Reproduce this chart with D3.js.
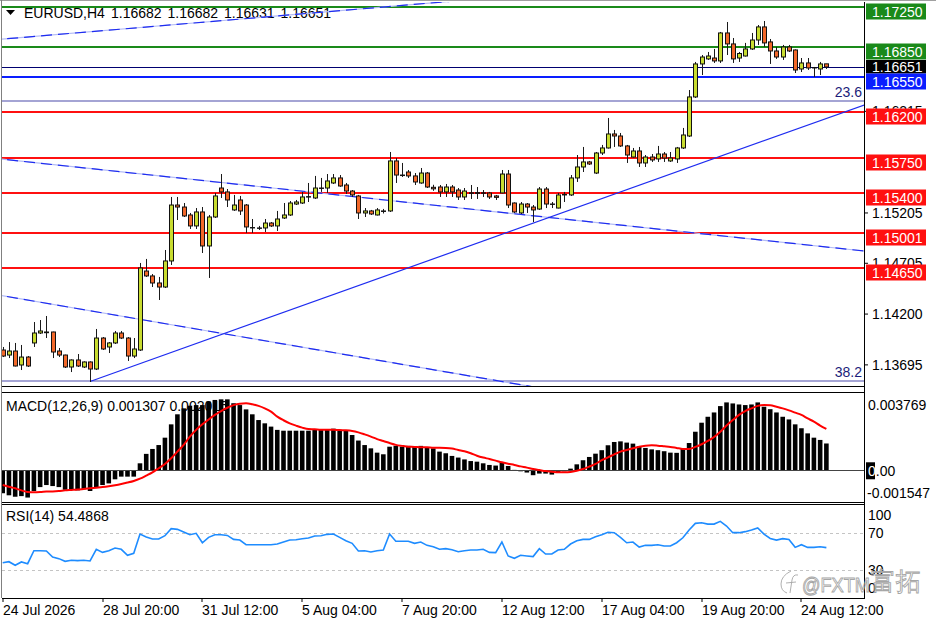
<!DOCTYPE html>
<html>
<head>
<meta charset="utf-8">
<script src="https://cdnjs.cloudflare.com/ajax/libs/d3/7.8.5/d3.min.js"></script>
<style>
  body { margin: 0; background: #fff; }
  svg { display: block; }
  text { font-family: "Liberation Sans", Arial, sans-serif; }
</style>
</head>
<body>
<div id="chart"></div>
<script>
// --- DATA (EURUSD H4) ---
const symbol = "EURUSD,H4";
const quote = ["1.16682", "1.16682", "1.16631", "1.16651"];

const opens = [1.13838,1.13788,1.13828,1.13689,1.13768,1.13908,1.14007,1.14017,1.14017,1.13828,
1.13788,1.13669,1.13739,1.13669,1.13719,1.13649,1.13957,1.13868,1.13908,1.14007,
1.13957,1.13778,1.13838,1.14623,1.14574,1.14504,1.14464,1.14723,1.15279,1.15259,
1.15180,1.15071,1.15210,1.14872,1.15160,1.15448,1.15409,1.15230,1.15329,1.15279,
1.15051,1.15051,1.15051,1.15100,1.15071,1.15150,1.15180,1.15289,1.15299,1.15359,
1.15349,1.15448,1.15448,1.15498,1.15548,1.15478,1.15418,1.15369,1.15200,1.15220,
1.15180,1.15215,1.15220,1.15717,1.15577,1.15607,1.15568,1.15498,1.15597,1.15455,
1.15458,1.15409,1.15458,1.15428,1.15359,1.15400,1.15395,1.15400,1.15398,1.15369,
1.15399,1.15587,1.15299,1.15200,1.15289,1.15259,1.15239,1.15438,1.15289,1.15249,
1.15379,1.15379,1.15548,1.15657,1.15707,1.15597,1.15796,1.15846,1.15985,1.15965,
1.15866,1.15756,1.15816,1.15697,1.15756,1.15737,1.15786,1.15717,1.15737,1.15846,
1.15965,1.16353,1.16681,1.16731,1.16740,1.16711,1.16989,1.16880,1.16740,1.16760,
1.16830,1.16919,1.17049,1.16900,1.16810,1.16750,1.16850,1.16820,1.16631,1.16691,
1.16641,1.16631,1.16682];

const highs = [1.13868,1.13917,1.13908,1.13888,1.13778,1.14116,1.14136,1.14176,1.14020,1.13858,
1.13792,1.13745,1.13798,1.13725,1.13725,1.14047,1.13967,1.13917,1.14027,1.14027,
1.13967,1.13957,1.14703,1.14743,1.14593,1.14564,1.14832,1.15359,1.15359,1.15299,
1.15200,1.15249,1.15259,1.15180,1.15399,1.15587,1.15438,1.15379,1.15369,1.15289,
1.15140,1.15071,1.15140,1.15110,1.15220,1.15299,1.15319,1.15329,1.15409,1.15498,
1.15568,1.15548,1.15587,1.15587,1.15577,1.15498,1.15428,1.15379,1.15249,1.15230,
1.15249,1.15240,1.15806,1.15746,1.15697,1.15627,1.15597,1.15647,1.15607,1.15480,
1.15478,1.15488,1.15478,1.15448,1.15448,1.15478,1.15458,1.15428,1.15409,1.15379,
1.15627,1.15627,1.15305,1.15309,1.15299,1.15279,1.15458,1.15458,1.15309,1.15399,
1.15409,1.15577,1.15776,1.15856,1.15717,1.15806,1.15876,1.16144,1.16025,1.15995,
1.15876,1.15846,1.15856,1.15776,1.15786,1.15866,1.15806,1.15806,1.15856,1.16045,
1.16422,1.16701,1.16770,1.16800,1.16830,1.16999,1.17098,1.16939,1.16800,1.16890,
1.16989,1.17068,1.17108,1.16929,1.16850,1.16870,1.16870,1.16825,1.16740,1.16740,
1.16651,1.16701,1.16682];

const lows = [1.13768,1.13758,1.13675,1.13639,1.13669,1.13868,1.13997,1.13957,1.13758,1.13768,
1.13659,1.13619,1.13669,1.13659,1.13520,1.13639,1.13838,1.13808,1.13898,1.13947,
1.13729,1.13758,1.13828,1.14564,1.14464,1.14335,1.14454,1.14683,1.15130,1.15160,
1.15041,1.15041,1.14802,1.14554,1.15150,1.15349,1.15259,1.15220,1.15180,1.15001,
1.15001,1.15031,1.15011,1.15061,1.15021,1.15140,1.15170,1.15279,1.15289,1.15309,
1.15339,1.15409,1.15399,1.15488,1.15460,1.15389,1.15359,1.15140,1.15160,1.15180,
1.15175,1.15195,1.15210,1.15498,1.15558,1.15548,1.15478,1.15490,1.15448,1.15420,
1.15359,1.15359,1.15359,1.15329,1.15329,1.15339,1.15339,1.15359,1.15339,1.15329,
1.15395,1.15249,1.15200,1.15190,1.15200,1.15110,1.15230,1.15249,1.15249,1.15245,
1.15309,1.15369,1.15508,1.15607,1.15677,1.15587,1.15776,1.15840,1.15856,1.15856,
1.15697,1.15750,1.15657,1.15657,1.15707,1.15707,1.15707,1.15707,1.15697,1.15836,
1.15955,1.16343,1.16571,1.16721,1.16691,1.16691,1.16770,1.16691,1.16701,1.16755,
1.16820,1.16870,1.16850,1.16681,1.16731,1.16721,1.16800,1.16591,1.16601,1.16621,
1.16551,1.16571,1.16631];

const closes = [1.13778,1.13828,1.13679,1.13768,1.13679,1.14007,1.14027,1.14010,1.13818,1.13788,
1.13669,1.13739,1.13679,1.13719,1.13649,1.13957,1.13848,1.13908,1.14007,1.13957,
1.13778,1.13848,1.14653,1.14574,1.14504,1.14464,1.14723,1.15279,1.15259,1.15170,
1.15071,1.15210,1.14872,1.15160,1.15369,1.15409,1.15329,1.15279,1.15220,1.15061,
1.15055,1.15048,1.15100,1.15071,1.15140,1.15180,1.15299,1.15309,1.15359,1.15362,
1.15448,1.15445,1.15518,1.15548,1.15468,1.15418,1.15379,1.15200,1.15220,1.15190,
1.15230,1.15220,1.15717,1.15577,1.15572,1.15568,1.15508,1.15597,1.15458,1.15440,
1.15409,1.15458,1.15409,1.15359,1.15418,1.15395,1.15402,1.15396,1.15359,1.15355,
1.15587,1.15279,1.15210,1.15289,1.15259,1.15230,1.15438,1.15289,1.15285,1.15379,
1.15384,1.15548,1.15657,1.15707,1.15687,1.15796,1.15846,1.15985,1.15965,1.15866,
1.15776,1.15816,1.15697,1.15756,1.15727,1.15786,1.15746,1.15746,1.15846,1.15975,
1.16353,1.16681,1.16750,1.16760,1.16711,1.16989,1.16880,1.16731,1.16785,1.16830,
1.16919,1.17049,1.16890,1.16810,1.16750,1.16850,1.16810,1.16621,1.16691,1.16641,
1.16645,1.16681,1.16651];

// MACD(12,26,9): histogram (main) and signal line
const macdMain = [-0.00112,-0.00122,-0.00129,-0.00126,-0.00133,-0.00101,-0.00082,-0.00072,-0.00077,-0.00082,
-0.00095,-0.00095,-0.00098,-0.00093,-0.00101,-0.00082,-0.00072,-0.00064,-0.00044,-0.00031,
-0.00031,-0.00031,0.00034,0.00080,0.00104,0.00123,0.00159,0.00224,0.00273,0.00302,
0.00315,0.00318,0.00318,0.00335,0.00343,0.00346,0.00346,0.00327,0.00318,0.00297,
0.00273,0.00245,0.00229,0.00213,0.00197,0.00193,0.00193,0.00193,0.00193,0.00193,
0.00197,0.00197,0.00197,0.00203,0.00197,0.00193,0.00172,0.00145,0.00123,0.00107,
0.00086,0.00078,0.00115,0.00119,0.00115,0.00119,0.00115,0.00119,0.00110,0.00107,
0.00091,0.00083,0.00070,0.00062,0.00053,0.00045,0.00042,0.00034,0.00026,0.00023,
0.00037,0.00021,0.00002,-0.00005,-0.00011,-0.00024,-0.00016,-0.00016,-0.00021,-0.00011,
-0.00005,0.00008,0.00029,0.00049,0.00065,0.00081,0.00098,0.00122,0.00138,0.00141,
0.00135,0.00130,0.00117,0.00109,0.00102,0.00098,0.00093,0.00086,0.00085,0.00106,
0.00133,0.00188,0.00232,0.00261,0.00282,0.00313,0.00331,0.00326,0.00321,0.00318,
0.00321,0.00331,0.00310,0.00298,0.00282,0.00261,0.00248,0.00224,0.00205,0.00180,
0.00159,0.00148,0.001307];

const macdSignal = [-0.00072,-0.00080,-0.00088,-0.00098,-0.00106,-0.00107,-0.00106,-0.00104,-0.00103,-0.00101,
-0.00098,-0.00096,-0.00094,-0.00091,-0.00088,-0.00085,-0.00082,-0.00078,-0.00073,-0.00067,
-0.00060,-0.00052,-0.00041,-0.00026,-0.00010,0.00010,0.00031,0.00059,0.00091,0.00124,
0.00164,0.00197,0.00224,0.00248,0.00270,0.00289,0.00305,0.00318,0.00325,0.00327,
0.00322,0.00314,0.00302,0.00286,0.00262,0.00244,0.00229,0.00218,0.00208,0.00201,
0.00200,0.00198,0.00198,0.00198,0.00196,0.00195,0.00192,0.00185,0.00175,0.00164,
0.00152,0.00143,0.00133,0.00124,0.00119,0.00115,0.00114,0.00112,0.00112,0.00110,
0.00110,0.00109,0.00106,0.00099,0.00093,0.00083,0.00071,0.00062,0.00055,0.00047,
0.00039,0.00032,0.00026,0.00019,0.00013,0.00006,0.00001,-0.00004,-0.00007,-0.00010,
-0.00010,-0.00008,-0.00002,0.00006,0.00018,0.00031,0.00049,0.00063,0.00078,0.00091,
0.00099,0.00107,0.00115,0.00120,0.00122,0.00120,0.00117,0.00114,0.00109,0.00104,
0.00104,0.00114,0.00127,0.00143,0.00162,0.00188,0.00218,0.00245,0.00270,0.00289,
0.00302,0.00314,0.00318,0.00317,0.00310,0.00302,0.00292,0.00281,0.00270,0.00253,
0.00237,0.00218,0.002016];

const rsiValues = [38.2,39.3,35.4,39.0,37.1,51.2,51.2,50.9,44.4,42.6,
39.7,40.8,40.4,40.8,40.1,52.7,49.4,51.2,54.1,52.7,
46.2,48.4,69.2,66.0,63.8,63.8,67.4,75.0,74.3,71.4,
68.5,70.0,59.8,65.6,68.5,68.5,67.7,63.4,62.7,57.7,
57.7,57.7,57.7,57.7,58.4,60.6,62.7,63.1,64.2,64.9,
67.1,67.4,68.9,69.2,65.6,62.0,59.2,50.9,51.2,49.8,
51.2,51.9,69.2,61.4,61.4,61.4,59.2,60.6,57.0,55.5,
52.7,53.4,52.3,50.1,51.2,51.9,51.9,52.7,49.4,49.1,
60.6,45.5,43.0,46.2,45.5,44.8,53.4,47.6,47.6,51.9,
52.7,58.4,62.0,63.4,63.4,66.3,68.5,71.1,70.7,65.6,
59.8,60.6,55.1,57.0,57.0,57.7,56.2,56.2,59.8,65.2,
73.6,80.8,81.5,80.0,80.0,83.0,77.9,70.7,70.7,71.8,
73.6,75.8,69.2,64.5,62.7,64.2,63.4,54.8,57.7,54.8,
54.8,55.5,54.4868];

// horizontal levels drawn on the chart
const resistLevels = [1.17250, 1.16850];
const pivotLevel = 1.16550;
const supportLevels = [1.16200, 1.15750, 1.15400, 1.15001, 1.14650];
const bidPrice = 1.16651;
const fiboNames = ["23.6", "38.2"];
const fiboPrices = [1.16316, 1.13533];

// trend lines: [barA, priceA, barB, priceB]
const dashedLines = [
  [0, 1.16928, 70, 1.17294],
  [0, 1.15734, 130, 1.14875],
  [0, 1.14377, 80, 1.13525]
];
const upTrend = [14, 1.13525, 130, 1.16095];

// axis ticks
const priceTicks = [1.16215, 1.15205, 1.14705, 1.14200, 1.13695];
const macdScaleMax = 0.003769, macdScaleMin = -0.001547;
const rsiLevels = [70, 30];
const timeTickBars = [0, 16, 32, 48, 64, 80, 96, 112, 128];
const timeLabels = ["24 Jul 2026", "28 Jul 20:00", "31 Jul 12:00", "5 Aug 04:00", "7 Aug 20:00",
                    "12 Aug 12:00", "17 Aug 04:00", "19 Aug 20:00", "24 Aug 12:00"];

// --- LAYOUT ---
const W = 936, H = 624;
const plotL = 2, plotR = 864;
const mainTop = 2, mainBot = 386;
const macdTop = 393, macdBot = 502;
const rsiTop = 505.6, rsiBot = 598;
const FONT = 14;
const bullColor = "#c8dc30", bearColor = "#f2682a";
const n = closes.length;

const svg = d3.select("#chart").append("svg").attr("width", W).attr("height", H);
svg.append("rect").attr("width", W).attr("height", H).attr("fill", "#fff");

// scales
const x = d3.scaleLinear().domain([0, n - 1]).range([2.7, 2.7 + 6.24 * (n - 1)]);
const y = d3.scaleLinear().domain([1.1725, 1.1465]).range([6.7, 268.3]);
const yM = d3.scaleLinear().domain([macdScaleMin, macdScaleMax]).range([macdBot, macdTop]);
const yR = d3.scaleLinear().domain([0, 100]).range([rsiBot, rsiTop]);
const cx = i => Math.round(x(i)) + 0.5;

const defs = svg.append("defs");
defs.append("clipPath").attr("id", "mainClip").append("rect")
    .attr("x", plotL).attr("y", mainTop).attr("width", plotR - plotL).attr("height", mainBot - mainTop);
defs.append("clipPath").attr("id", "macdClip").append("rect")
    .attr("x", plotL).attr("y", macdTop).attr("width", plotR - plotL).attr("height", macdBot - macdTop);

// =========================================================
// MAIN PANEL
// =========================================================
const main = svg.append("g").attr("clip-path", "url(#mainClip)");

// header (drawn first, lines run across it)
main.append("path").attr("d", "M6,10 L15,10 L10.5,15 Z").attr("fill", "#000");
main.append("text").attr("x", 24).attr("y", 18).attr("font-size", FONT).text(symbol);
main.append("text").attr("x", 111).attr("y", 18).attr("font-size", FONT)
    .attr("word-spacing", 2).text(quote.join(" "));

// fibo levels
main.selectAll(".fibo").data(fiboPrices).enter().append("line")
    .attr("x1", plotL).attr("x2", plotR)
    .attr("y1", d => Math.round(y(d))).attr("y2", d => Math.round(y(d)))
    .attr("stroke", "#a4a4d4").attr("stroke-width", 2);

// horizontal levels
const levelLine = (vals, color, w) => main.selectAll(null).data(vals).enter().append("line")
    .attr("x1", plotL).attr("x2", plotR)
    .attr("y1", d => Math.round(y(d))).attr("y2", d => Math.round(y(d)))
    .attr("stroke", color).attr("stroke-width", w);
levelLine(resistLevels, "#1a8a1a", 2);
levelLine(supportLevels, "#ff1010", 2);
levelLine([pivotLevel], "#0a1eff", 2);
main.append("line").attr("x1", plotL).attr("x2", plotR)
    .attr("y1", Math.round(y(bidPrice)) + 0.5).attr("y2", Math.round(y(bidPrice)) + 0.5)
    .attr("stroke", "#000070").attr("stroke-width", 1);

// trend lines
const priceOn = (seg, i) => seg[1] + (seg[3] - seg[1]) * (i - seg[0]) / (seg[2] - seg[0]);
dashedLines.forEach(seg => {
  const a = -2, b = n + 10;
  main.append("line")
      .attr("x1", x(a)).attr("y1", y(priceOn(seg, a))).attr("x2", x(b)).attr("y2", y(priceOn(seg, b)))
      .attr("stroke", "#b4bcf6").attr("stroke-width", 1.2);
  main.append("line")
      .attr("x1", x(a)).attr("y1", y(priceOn(seg, a))).attr("x2", x(b)).attr("y2", y(priceOn(seg, b)))
      .attr("stroke", "#1e2cf0").attr("stroke-width", 1.2).attr("stroke-dasharray", "11 6");
});
main.append("line")
    .attr("x1", x(upTrend[0])).attr("y1", y(upTrend[1]))
    .attr("x2", x(n + 10)).attr("y2", y(priceOn(upTrend, n + 10)))
    .attr("stroke", "#1e2cf0").attr("stroke-width", 1.2);

// candles
const candles = d3.range(n).map(i => ({ i, o: opens[i], h: highs[i], l: lows[i], c: closes[i] }));
const cg = main.append("g");
cg.selectAll(".wick").data(candles).enter().append("line")
    .attr("x1", d => cx(d.i)).attr("x2", d => cx(d.i))
    .attr("y1", d => y(d.h)).attr("y2", d => y(d.l))
    .attr("stroke", "#1a1a1a").attr("stroke-width", 1);
cg.selectAll(".body").data(candles).enter().append("rect")
    .attr("x", d => cx(d.i) - 2)
    .attr("width", 4)
    .attr("y", d => Math.min(y(d.o), y(d.c)))
    .attr("height", d => Math.max(Math.abs(y(d.o) - y(d.c)), 0.4))
    .attr("fill", d => Math.abs(y(d.o) - y(d.c)) < 1 ? "#000" : (d.c >= d.o ? bullColor : bearColor))
    .attr("stroke", "#111").attr("stroke-width", 1);

// fibo labels
main.selectAll(".fiboText").data(fiboPrices).enter().append("text")
    .attr("x", plotR - 2).attr("y", d => y(d) - 3.5)
    .attr("text-anchor", "end").attr("font-size", FONT).attr("fill", "#1c1c7a")
    .text((d, k) => fiboNames[k]);

// =========================================================
// MACD PANEL
// =========================================================
svg.append("text").attr("x", 6).attr("y", 410.5).attr("font-size", FONT)
    .text(`MACD(12,26,9) ${macdMain[n - 1].toFixed(6)} ${macdSignal[n - 1].toFixed(6)}`);
const mg = svg.append("g").attr("clip-path", "url(#macdClip)");
mg.selectAll(".hist").data(macdMain).enter().append("rect")
    .attr("x", (d, i) => x(i) - 2.3).attr("width", 4.6)
    .attr("y", d => Math.min(yM(d), yM(0)))
    .attr("height", d => Math.abs(yM(d) - yM(0)))
    .attr("fill", "#000");
mg.append("line").attr("x1", plotL).attr("x2", plotR)
    .attr("y1", Math.round(yM(0)) + 0.5).attr("y2", Math.round(yM(0)) + 0.5)
    .attr("stroke", "#444").attr("stroke-width", 1);
mg.append("path").datum(macdSignal)
    .attr("d", d3.line().x((d, i) => x(i)).y(d => yM(d)).curve(d3.curveMonotoneX))
    .attr("fill", "none").attr("stroke", "#ff0000").attr("stroke-width", 2);

// =========================================================
// RSI PANEL
// =========================================================
svg.append("text").attr("x", 6).attr("y", 521).attr("font-size", FONT)
    .text(`RSI(14) ${rsiValues[n - 1].toFixed(4)}`);
svg.selectAll(".rsiLvl").data(rsiLevels).enter().append("line")
    .attr("x1", plotL).attr("x2", plotR)
    .attr("y1", d => Math.round(yR(d)) + 0.5).attr("y2", d => Math.round(yR(d)) + 0.5)
    .attr("stroke", "#c4c4c4").attr("stroke-dasharray", "3 3");
svg.append("path").datum(rsiValues)
    .attr("d", d3.line().x((d, i) => x(i)).y(d => yR(d)))
    .attr("fill", "none").attr("stroke", "#1e8cff").attr("stroke-width", 1.6);

// =========================================================
// FRAMES
// =========================================================
svg.append("line").attr("x1", 0).attr("x2", W).attr("y1", 0.5).attr("y2", 0.5).attr("stroke", "#a0a0a0");
svg.append("line").attr("x1", 1.5).attr("x2", 1.5).attr("y1", 0).attr("y2", rsiBot).attr("stroke", "#808080");
[mainBot + 0.5, macdTop - 0.5, macdBot + 0.5, rsiTop - 1.1, rsiBot + 0.5].forEach(v => {
  svg.append("line").attr("x1", plotL).attr("x2", plotR).attr("y1", v).attr("y2", v)
      .attr("stroke", "#000").attr("stroke-width", 1);
});
svg.append("line").attr("x1", plotR + 0.5).attr("x2", plotR + 0.5)
    .attr("y1", mainTop).attr("y2", rsiBot + 1).attr("stroke", "#000");

// =========================================================
// AXES
// =========================================================
const priceAxis = d3.axisRight(y).tickValues(priceTicks).tickFormat(d3.format(".5f"))
    .tickSize(4).tickPadding(4);
const gP = svg.append("g").attr("transform", `translate(${plotR},0)`).call(priceAxis);
gP.select(".domain").remove();
gP.selectAll("text").attr("font-size", FONT).attr("font-family", "Liberation Sans, Arial, sans-serif")
    .attr("fill", "#000").attr("dy", "0.33em");
gP.selectAll("line").attr("stroke", "#000");

// level label boxes
const labelBox = (val, fill, top, bottom, base) => {
  const yy = Math.round(y(val));
  svg.append("rect").attr("x", 866).attr("y", yy - top).attr("width", 60).attr("height", top + bottom)
      .attr("fill", fill);
  svg.append("text").attr("x", 872).attr("y", yy + base).attr("font-size", FONT)
      .attr("fill", "#fff").text(val.toFixed(5));
};
labelBox(bidPrice, "#000", 7, 6.5, 5);
resistLevels.forEach(v => labelBox(v, "#1a8a1a", 3.5, 12.5, 9.5));
labelBox(pivotLevel, "#0a1eff", 3.5, 12.5, 9.5);
supportLevels.forEach(v => labelBox(v, "#ff1010", 3.5, 12.5, 9.5));

// MACD scale labels
svg.append("text").attr("x", 868).attr("y", yM(macdScaleMax) + 17).attr("font-size", FONT)
    .text(macdScaleMax.toFixed(6));
svg.append("text").attr("x", 867).attr("y", yM(macdScaleMin) - 4.5).attr("font-size", FONT)
    .text(macdScaleMin.toFixed(6));
svg.append("rect").attr("x", 866).attr("y", yM(0) - 8).attr("width", 9).attr("height", 17).attr("fill", "#000");
svg.append("text").attr("x", 868).attr("y", yM(0) + 5.4).attr("font-size", FONT)
    .html('<tspan fill="#fff">0</tspan><tspan fill="#000">.00</tspan>');

// RSI scale labels
const rsiAxisVals = [100, 70, 30, 0];
const rsiShift = [14.4, 4.5, 4.5, -5];
svg.selectAll(".rsiLbl").data(rsiAxisVals).enter().append("text")
    .attr("x", 868).attr("y", (d, k) => yR(d) + rsiShift[k]).attr("font-size", FONT)
    .text(d => d);

// time axis
const timeAxis = d3.axisBottom(x).tickValues(timeTickBars)
    .tickFormat((d, k) => timeLabels[k]).tickSize(4).tickPadding(3);
const gT = svg.append("g").attr("transform", `translate(0,${rsiBot})`).call(timeAxis);
gT.select(".domain").remove();
gT.selectAll(".tick").attr("transform", d => `translate(${cx(d) - 0.5},0)`);
gT.selectAll("line").attr("stroke", "#000");
gT.selectAll("text").attr("font-size", FONT).attr("font-family", "Liberation Sans, Arial, sans-serif")
    .attr("fill", "#000").attr("text-anchor", "start").attr("x", 0);

// watermark
const wm = svg.append("g").attr("fill", "none").attr("stroke", "#a6a6a6").attr("stroke-width", 0.9);
wm.append("path").attr("d", "M791,571 Q781,576 781,584 Q781,591 787,593");
wm.append("path").attr("d", "M798,575 Q793,574 792,580 L790,593 M786,583 L796,582");
wm.append("text").attr("x", 802).attr("y", 592).attr("font-size", 20)
    .attr("textLength", 68).attr("lengthAdjust", "spacingAndGlyphs").text("@FXTM");
wm.append("text").attr("x", 871).attr("y", 590).attr("font-size", 25)
    .attr("font-family", "Noto Sans CJK SC").text("富拓");
</script>
</body>
</html>
